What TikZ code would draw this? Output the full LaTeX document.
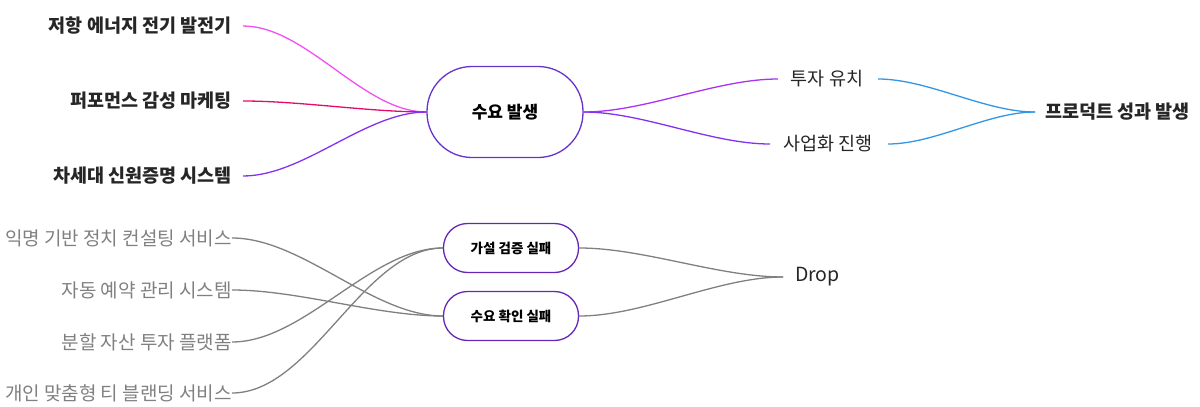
\documentclass[tikz,border=0pt]{standalone}
\usepackage{fontspec}
\setmainfont{Noto Sans CJK KR}
\begin{document}
\begin{tikzpicture}[x=1pt,y=-1pt,
  lbl/.style={inner sep=0pt,anchor=east,font=\fontsize{18.5}{21}\selectfont\bfseries,text=black!85},
  glbl/.style={inner sep=0pt,anchor=east,font=\fontsize{19}{21}\selectfont,text=black!50},
  rlbl/.style={inner sep=0pt,font=\fontsize{18.5}{21}\selectfont,text=black!85},
  pill/.style={draw,rounded corners=24pt,line width=1.3pt,fill=white},
  curve/.style={line width=1.3pt},
  cn/.style={out=0,in=180,looseness=0.8}]
\useasboundingbox (0,0) rectangle (1200,407);
% top
\node[lbl] (t1) at (232,26) {저항 에너지 전기 발전기};
\node[lbl] (t2) at (232,101) {퍼포먼스 감성 마케팅};
\node[lbl] (t3) at (232,176) {차세대 신원증명 시스템};
\node[pill,draw=violet!50!blue!80,rounded corners=45pt,minimum width=156pt,minimum height=91pt,font=\fontsize{17}{19}\selectfont\bfseries] (m) at (505,112) {수요 발생};
\coordinate (t1e) at (243,26);
\coordinate (t2e) at (243,101);
\coordinate (t3e) at (243,176);
\draw[curve,draw={rgb,255:red,240;green,80;blue,240}] (t1e) to[cn] (m.west);
\draw[curve,draw={rgb,255:red,230;green,10;blue,110}] (t2e) to[cn] (m.west);
\draw[curve,draw={rgb,255:red,130;green,50;blue,240}] (t3e) to[cn] (m.west);
\node[rlbl] (r1) at (827,79) {투자 유치};
\node[rlbl] (r2) at (828,144) {사업화 진행};
\coordinate (r1w) at (778,79); \coordinate (r2w) at (770,144);
\draw[curve,draw={rgb,255:red,170;green,50;blue,240}] (m.east) to[cn] (r1w);
\draw[curve,draw={rgb,255:red,130;green,50;blue,240}] (m.east) to[cn] (r2w);
\node[lbl,anchor=west] (p) at (1045,112) {프로덕트 성과 발생};
\coordinate (r1e) at (878,79); \coordinate (r2e) at (888,144); \coordinate (pw) at (1035,112);
\draw[curve,draw={rgb,255:red,50;green,150;blue,230}] (r1e) to[cn] (pw);
\draw[curve,draw={rgb,255:red,50;green,150;blue,230}] (r2e) to[cn] (pw);
% bottom
\node[glbl] (b1) at (232,238) {익명 기반 정치 컨설팅 서비스};
\node[glbl] (b2) at (232,290) {자동 예약 관리 시스템};
\node[glbl] (b3) at (232,342) {분할 자산 투자 플랫폼};
\node[glbl] (b4) at (232,393) {개인 맞춤형 티 블랜딩 서비스};
\draw[curve,draw=black!50] (b1.east) to[cn] (443,316);
\draw[curve,draw=black!50] (b2.east) to[cn] (443,316);
\draw[curve,draw=black!50] (b3.east) to[cn] (443,248);
\draw[curve,draw=black!50] (b4.east) to[cn] (443,248);
\node[pill,draw={rgb,255:red,100;green,40;blue,180},minimum width=135pt,minimum height=49pt,font=\fontsize{13.5}{15}\selectfont\bfseries] (h) at (511,248) {가설 검증 실패};
\node[pill,draw={rgb,255:red,100;green,40;blue,180},minimum width=135pt,minimum height=49pt,font=\fontsize{13.5}{15}\selectfont\bfseries] (d) at (511,316) {수요 확인 실패};
\node[rlbl,anchor=west,font=\fontsize{19.5}{22}\selectfont] (drop) at (795,277) {Drop};
\coordinate (dw) at (783,277);
\draw[curve,draw=black!50] (h.east) to[cn] (dw);
\draw[curve,draw=black!50] (d.east) to[cn] (dw);
\end{tikzpicture}
\end{document}
